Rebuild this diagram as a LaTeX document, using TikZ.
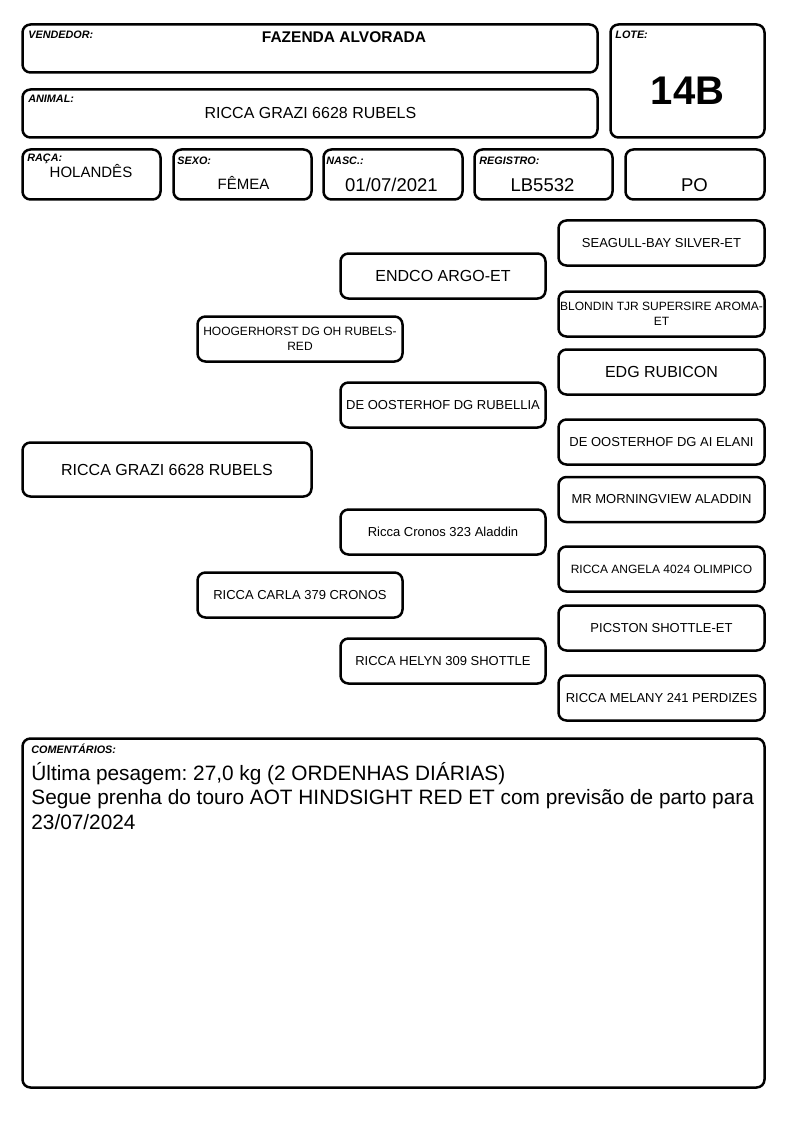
\documentclass[tikz,border=0pt]{standalone}
\usepackage{fontspec}
\setmainfont{Liberation Sans}
\usetikzlibrary{positioning}
\frenchspacing

\begin{document}
\begin{tikzpicture}[x=1pt,y=-1pt,thick,
  cell/.style={draw,line width=2.5pt,rounded corners=8pt,inner sep=0pt,align=center},
  ped/.style={cell,minimum width=205pt,minimum height=45pt,font=\fontsize{13}{14.5}\selectfont},
  tag/.style={anchor=base west,inner sep=0pt,font=\fontsize{10.8}{12}\selectfont\bfseries\itshape},
  val/.style={anchor=base,inner sep=0pt,font=\fontsize{18.5}{22}\selectfont}]
  \useasboundingbox (0,0) rectangle (794,1123);

  \node[cell, minimum width=575pt, minimum height=48pt] (vend) at (310,48.5) {};
  \node[cell, minimum width=154pt, minimum height=113pt] (lote) at (687.5,81) {};
  \node[cell, minimum width=575pt, minimum height=48pt] (anim) at (310,113.5) {};
  \node[cell, minimum width=138pt, minimum height=50pt] (raca) at (91.5,174.5) {};
  \node[cell, minimum width=138pt, minimum height=50pt] (sexo) at (242.5,174.5) {};
  \node[cell, minimum width=139pt, minimum height=50pt] (nasc) at (393,174.5) {};
  \node[cell, minimum width=138pt, minimum height=50pt] (reg) at (543.5,174.5) {};
  \node[cell, minimum width=139pt, minimum height=50pt] (po) at (695,174.5) {};
  \node[cell, minimum width=742pt, minimum height=349pt] (com) at (393.5,913) {};

  \node[tag] (vendT) at (28,39) {VENDEDOR:};
  \node[tag] (loteT) at (615,39) {LOTE:};
  \node[tag] (animT) at (28,103) {ANIMAL:};
  \node[tag] (racaT) at (27,162) {RAÇA:};
  \node[tag] (sexoT) at (177,165) {SEXO:};
  \node[tag] (nascT) at (326,165) {NASC.:};
  \node[tag] (regT) at (479,165) {REGISTRO:};
  \node[tag] (comT) at (31,753) {COMENTÁRIOS:};

  \node[val, font=\fontsize{15.5}{18}\selectfont\bfseries] (vendV) at (344,43) {FAZENDA ALVORADA};
  \node[val, font=\fontsize{40}{44}\selectfont\bfseries] (loteV) at (687.5,105) {14B};
  \node[val, font=\fontsize{16}{19}\selectfont] (animV) at (310.5,119) {RICCA GRAZI 6628 RUBELS};
  \node[val, font=\fontsize{15}{18}\selectfont] (racaV) at (91,178) {HOLANDÊS};
  \node[val, font=\fontsize{15}{18}\selectfont] (sexoV) at (243.5,190) {FÊMEA};
  \node[val] (nascV) at (391.5,192) {01/07/2021};
  \node[val] (regV) at (542.5,192) {LB5532};
  \node[val] (poV) at (694.5,192) {PO};

  \node[ped, minimum width=289pt, minimum height=54pt, font=\fontsize{16}{19}\selectfont] (p0) at (167,469.5) {RICCA GRAZI 6628 RUBELS};
  \node[ped, font=\fontsize{12}{14.5}\selectfont] (s) at (300,339) {HOOGERHORST DG OH RUBELS-\\RED};
  \node[ped] (d) at (300,595) {RICCA CARLA 379 CRONOS};
  \node[ped, font=\fontsize{16}{19}\selectfont] (ss) at (443,276) {ENDCO ARGO-ET};
  \node[ped] (sd) at (443,405) {DE OOSTERHOF DG RUBELLIA};
  \node[ped] (ds) at (443,532) {Ricca Cronos 323 Aladdin};
  \node[ped] (dd) at (443,661) {RICCA HELYN 309 SHOTTLE};
  \node[ped, minimum width=206pt] (sss) at (661.5,243) {SEAGULL-BAY SILVER-ET};
  \node[ped, minimum width=206pt, font=\fontsize{12}{14.5}\selectfont] (ssd) at (661.5,314) {BLONDIN TJR SUPERSIRE AROMA-\\ET};
  \node[ped, minimum width=206pt, font=\fontsize{16}{19}\selectfont] (sds) at (661.5,372) {EDG RUBICON};
  \node[ped, minimum width=206pt] (sdd) at (661.5,442) {DE OOSTERHOF DG AI ELANI};
  \node[ped, minimum width=206pt] (dss) at (661.5,499.5) {MR MORNINGVIEW ALADDIN};
  \node[ped, minimum width=206pt, font=\fontsize{12}{14.5}\selectfont] (dsd) at (661.5,569) {RICCA ANGELA 4024 OLIMPICO};
  \node[ped, minimum width=206pt] (dds) at (661.5,628) {PICSTON SHOTTLE-ET};
  \node[ped, minimum width=206pt] (ddd) at (661.5,698) {RICCA MELANY 241 PERDIZES};

  \node[anchor=base west, inner sep=0pt, align=left, font=\fontsize{20.8}{24.5}\selectfont] (comV) at (31,829)
    {Última pesagem: 27,0 kg (2 ORDENHAS DIÁRIAS)\\Segue prenha do touro AOT HINDSIGHT RED ET com previsão de parto para\\23/07/2024};
\end{tikzpicture}
\end{document}
